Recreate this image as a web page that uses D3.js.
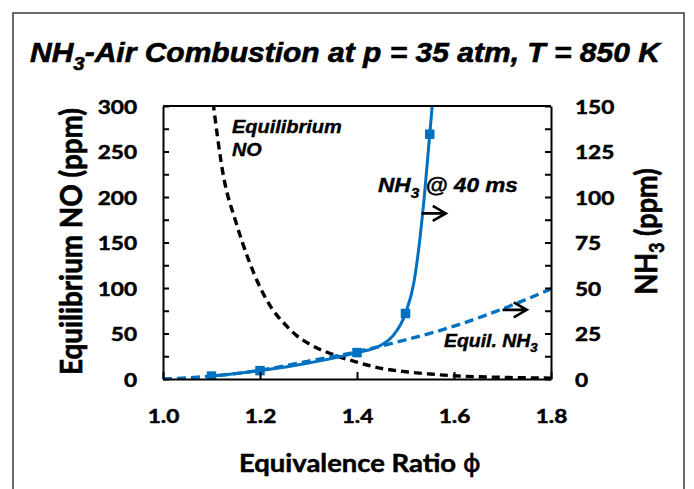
<!DOCTYPE html>
<html><head><meta charset="utf-8">
<script src="https://cdn.jsdelivr.net/npm/d3@7"></script>
<style>body{margin:0;background:#fff}svg{display:block}</style>
</head><body><svg id="c" width="694" height="489"></svg>
<script>
// ---- data ----
const phiTicks = [1.0, 1.2, 1.4, 1.6, 1.8];
const leftTicks = [0, 50, 100, 150, 200, 250, 300];
const rightTicks = [0, 25, 50, 75, 100, 125, 150];

// Equilibrium NO (left axis, ppm)
const noPhi = [1.10, 1.125, 1.15, 1.175, 1.20, 1.225, 1.25, 1.275, 1.30, 1.35, 1.40, 1.45, 1.50, 1.55, 1.60, 1.65, 1.70, 1.75, 1.80];
const noPpm = [318, 222, 173, 133, 101, 77, 61, 48, 39, 27, 18.5, 11.7, 8, 5.5, 3.5, 2.5, 1.8, 1.3, 1.0];

// Equilibrium NH3 (right axis, ppm)
const eqPhi = [1.0, 1.1, 1.2, 1.3, 1.4, 1.5, 1.6, 1.7, 1.8];
const eqNH3 = [0, 1.6, 4.8, 9.8, 15, 21.5, 29, 38.5, 49.5];

// NH3 @ 40 ms (right axis, ppm) - line trace
const msPhi = [1.10, 1.20, 1.30, 1.40, 1.45, 1.475, 1.50, 1.517, 1.531, 1.538, 1.55, 1.56];
const msNH3 = [1.6, 4.6, 8.8, 14.5, 18.7, 24, 36, 52.6, 80, 98, 134.5, 165];
// NH3 @ 40 ms markers
const markPhi = [1.1, 1.2, 1.4, 1.5, 1.55];
const markNH3 = [1.6, 4.6, 14.5, 36, 134.5];

// ---- layout ----
const svg = d3.select("#c");
const L = 163, R = 551, T = 106, B = 379;
const x = d3.scaleLinear().domain([1.0, 1.8]).range([L, R]);
const yL = d3.scaleLinear().domain([0, 300]).range([B, T]);
const yR = d3.scaleLinear().domain([0, 150]).range([B, T]);
const BLUE = "#0070C0";
const sans = "'Liberation Sans', Arial, sans-serif";
const cal = "Lato, 'Open Sans', sans-serif";

svg.append("rect").attr("x", 13).attr("y", 13).attr("width", 671).attr("height", 500)
  .attr("fill", "none").attr("stroke", "#3a3a3a").attr("stroke-width", 1.5);

function fitH(sel, width, x0, y0, anchor) {
  const w = sel.node().getBBox().width;
  const s = width / w;
  sel.attr("x", 0).attr("y", 0).attr("text-anchor", anchor || "start")
    .attr("transform", `translate(${x0},${y0}) scale(${s},1)`);
}
const heavy = (sel, w) => sel.attr("stroke", "#000").attr("stroke-width", w).attr("paint-order", "stroke");

// Title
const title = svg.append("text").attr("font-family", sans).attr("font-weight", "bold")
  .attr("font-style", "italic").attr("font-size", 28).attr("fill", "#000");
title.append("tspan").text("NH");
title.append("tspan").attr("font-size", 19).attr("dy", 8).text("3");
title.append("tspan").attr("dy", -8).text("-Air Combustion at p = 35 atm, T = 850 K");
heavy(title, 0.6);
fitH(title, 632, 30, 62);

svg.append("defs").append("clipPath").attr("id", "clip")
  .append("rect").attr("x", L).attr("y", T).attr("width", R - L).attr("height", B - T);

const plot = svg.append("g").attr("clip-path", "url(#clip)");

plot.append("path").datum(noPhi.map((p, i) => [p, noPpm[i]]))
  .attr("fill", "none").attr("stroke", "#000").attr("stroke-width", 3.4)
  .attr("stroke-dasharray", "8,5")
  .attr("d", d3.line().x(d => x(d[0])).y(d => yL(d[1])).curve(d3.curveMonotoneX));

plot.append("path").datum(eqPhi.map((p, i) => [p, eqNH3[i]]))
  .attr("fill", "none").attr("stroke", BLUE).attr("stroke-width", 3.4)
  .attr("stroke-dasharray", "9,5")
  .attr("d", d3.line().x(d => x(d[0])).y(d => yR(d[1])).curve(d3.curveMonotoneX));

plot.append("path").datum(msPhi.map((p, i) => [p, msNH3[i]]))
  .attr("fill", "none").attr("stroke", BLUE).attr("stroke-width", 3)
  .attr("d", d3.line().x(d => x(d[0])).y(d => yR(d[1])).curve(d3.curveMonotoneX));

const ms = 9.5;
plot.selectAll("rect.m").data(markPhi.map((p, i) => [p, markNH3[i]])).enter()
  .append("rect").attr("class", "m")
  .attr("x", d => x(d[0]) - ms / 2).attr("y", d => yR(d[1]) - ms / 2)
  .attr("width", ms).attr("height", ms).attr("fill", BLUE);

// Axes
const tickFont = g => g.selectAll("text").attr("font-family", cal).attr("font-weight", "bold")
  .attr("font-size", 19.5).attr("fill", "#000").attr("stroke", "#000").attr("stroke-width", 0.5);
const stretch = g => g.selectAll("text").each(function () {
  const w = this.getComputedTextLength();
  if (w > 0) d3.select(this).attr("textLength", w * 1.16).attr("lengthAdjust", "spacingAndGlyphs");
});

const ax = svg.append("g").attr("transform", `translate(${L},0)`)
  .call(d3.axisLeft(yL).tickValues(d3.range(0, 301, 25)).tickSize(-6).tickSizeOuter(0)
    .tickPadding(26).tickFormat(d => leftTicks.includes(d) ? d : ""));
ax.call(tickFont).call(stretch);
ax.selectAll("text").attr("dy", "0.36em");

const ar = svg.append("g").attr("transform", `translate(${R},0)`)
  .call(d3.axisRight(yR).tickValues(d3.range(0, 151, 12.5)).tickSize(-6).tickSizeOuter(0)
    .tickPadding(24).tickFormat(d => rightTicks.includes(d) ? d : ""));
ar.call(tickFont).call(stretch);
ar.selectAll("text").attr("dy", "0.36em");

const ab = svg.append("g").attr("transform", `translate(0,${B})`)
  .call(d3.axisBottom(x).tickValues(phiTicks).tickSize(-7).tickSizeOuter(0)
    .tickPadding(30).tickFormat(d3.format(".1f")));
ab.call(tickFont).call(stretch);

svg.selectAll(".domain, .tick line").attr("stroke", "#000").attr("stroke-width", 2);
svg.append("line").attr("x1", L).attr("x2", R).attr("y1", T).attr("y2", T)
  .attr("stroke", "#000").attr("stroke-width", 2);

// Axis titles
const lt = svg.append("text").attr("font-family", cal).attr("font-weight", "bold").attr("font-size", 27)
  .attr("text-anchor", "middle").attr("textLength", 267).attr("lengthAdjust", "spacingAndGlyphs")
  .attr("transform", "translate(82,241.5) scale(1.15,1) rotate(-90)")
  .text("Equilibrium NO (ppm)");
heavy(lt, 0.6);

const rt = svg.append("text").attr("font-family", cal).attr("font-weight", "bold").attr("font-size", 27)
  .attr("text-anchor", "middle")
  .attr("transform", "translate(657,231.5) scale(1.15,1) rotate(-90)");
rt.append("tspan").text("NH");
rt.append("tspan").attr("font-size", 18).attr("dy", 6).text("3");
rt.append("tspan").attr("dy", -6).text(" (ppm)");
heavy(rt, 0.6);

const xt = svg.append("text").attr("font-family", cal).attr("font-weight", "bold").attr("font-size", 25);
xt.append("tspan").text("Equivalence Ratio ");
xt.append("tspan").attr("font-family", "'DejaVu Sans', sans-serif").attr("font-weight", "normal").text("\u03D5");
heavy(xt, 0.5);
fitH(xt, 242, 239, 472);

// Annotations
function ann(parts, size, width, x0, y0) {
  const t = svg.append("text").attr("font-family", sans).attr("font-weight", "bold")
    .attr("font-style", "italic").attr("font-size", size).attr("fill", "#000");
  parts.forEach(p => {
    const s = t.append("tspan").text(p.t);
    if (p.sub) s.attr("font-size", size * 0.68).attr("dy", size * 0.28);
    if (p.back) s.attr("dy", -size * 0.28);
  });
  heavy(t, 0.4);
  fitH(t, width, x0, y0);
}
ann([{ t: "Equilibrium" }], 19, 110, 232, 133);
ann([{ t: "NO" }], 19, 30, 232, 156);
ann([{ t: "NH" }, { t: "3", sub: 1 }, { t: " @ 40 ms", back: 1 }], 21, 140, 378, 192);
ann([{ t: "Equil. NH" }, { t: "3", sub: 1 }], 18, 94, 444, 347);

function arrow(p0, p1, v) {
  const x0 = x(p0), x1 = x(p1), yy = yR(v);
  svg.append("path").attr("fill", "none").attr("stroke", "#000").attr("stroke-width", 2.6)
    .attr("d", `M${x0},${yy}H${x1}M${x1 - 13},${yy - 7.5}L${x1},${yy}L${x1 - 13},${yy + 7.5}`);
}
arrow(1.533, 1.583, 91);
arrow(1.70, 1.75, 38);
</script></body></html>
